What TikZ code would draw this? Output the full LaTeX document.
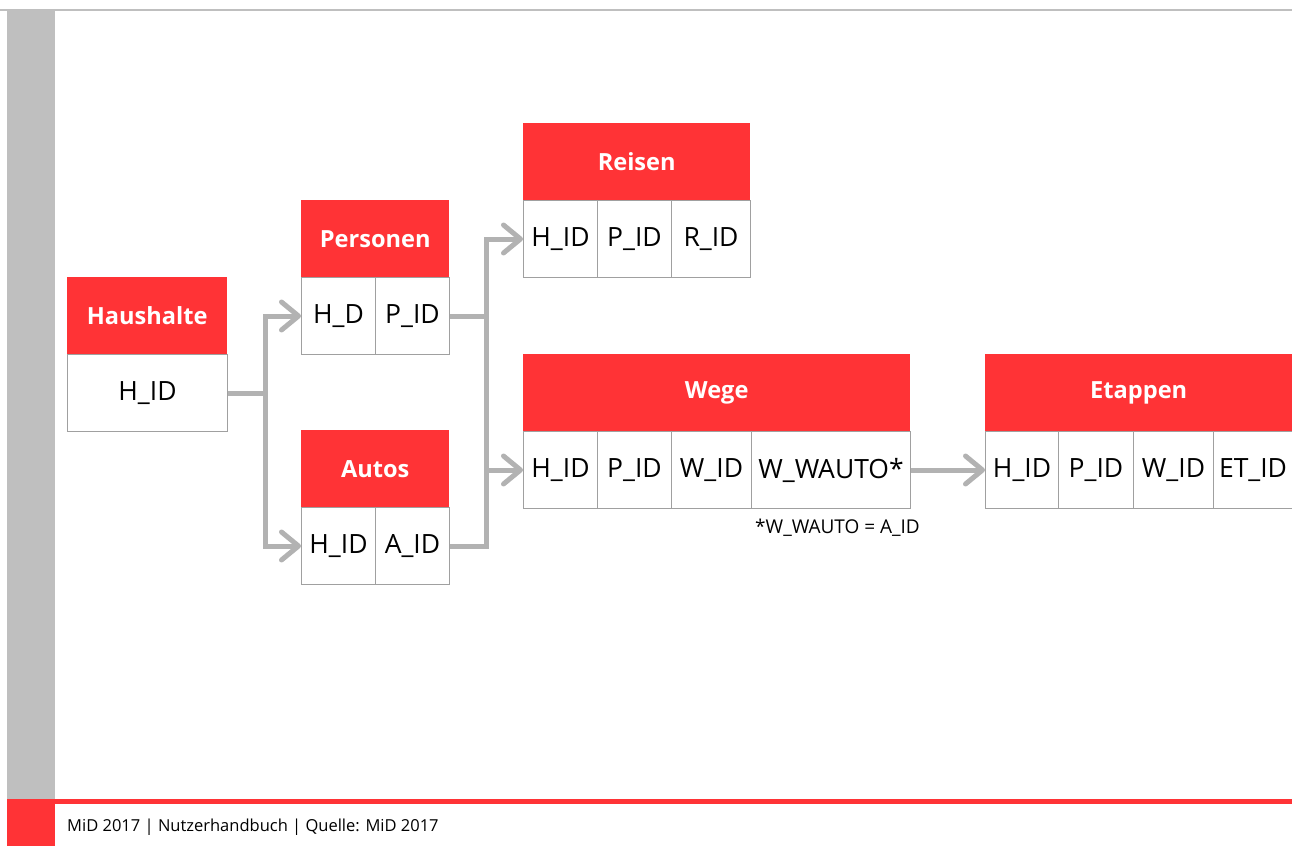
\documentclass[tikz,border=0pt]{standalone}
\usepackage{fontspec}
\setmainfont{Open Sans}
\usetikzlibrary{arrows.meta}
\definecolor{mred}{RGB}{255,51,54}
\definecolor{bargray}{RGB}{191,191,191}
\definecolor{conngray}{RGB}{178,178,178}
\definecolor{cellline}{RGB}{160,160,160}
\tikzset{
  hdr/.style={fill=mred, draw=none, text=white, font=\bfseries\fontsize{23.6}{23.6}\selectfont, minimum height=77pt, inner sep=0pt, anchor=north west},
  cell/.style={draw=cellline, line width=1pt, fill=white, font=\fontsize{26.5}{26.5}\selectfont, minimum height=77pt, inner sep=0pt, anchor=north west},
  conn/.style={draw=conngray, line width=5pt},
  arr/.style={conn, -{Straight Barb[length=17pt,width=28pt,line cap=round,line join=round]}},
}
\begin{document}
\begin{tikzpicture}[x=1pt,y=-1pt]
\useasboundingbox (0,0) rectangle (1292,846);
% frame
\fill[bargray] (0,9) rectangle (1292,11);
\fill[bargray] (7,9) rectangle (55,799);
\fill[mred] (7,799) rectangle (55,846);
\fill[mred] (55,799) rectangle (1292,804);
\node[anchor=base west, font=\fontsize{16.5}{16.5}\selectfont, inner sep=0pt] (foot) at (67,831) {MiD 2017 | Nutzerhandbuch | Quelle: MiD 2017};

% Haushalte
\node[hdr, minimum width=160pt] (hh) at (67,277) {Haushalte};
\node[cell, minimum width=160pt] (hb) at (67,354) {H\_ID};
% Personen
\node[hdr, minimum width=148pt] (ph) at (301,200) {Personen};
\node[cell, minimum width=74pt] (p1) at (301,277) {H\_D};
\node[cell, minimum width=74pt] (p2) at (375,277) {P\_ID};
% Autos
\node[hdr, minimum width=148pt] (ah) at (301,430) {Autos};
\node[cell, minimum width=74pt] (a1) at (301,507) {H\_ID};
\node[cell, minimum width=74pt] (a2) at (375,507) {A\_ID};
% Reisen
\node[hdr, minimum width=227pt] (rh) at (523,123) {Reisen};
\node[cell, minimum width=74pt] (r1) at (523,200) {H\_ID};
\node[cell, minimum width=74pt] (r2) at (597,200) {P\_ID};
\node[cell, minimum width=79pt] (r3) at (671,200) {R\_ID};
% Wege
\node[hdr, minimum width=387pt] (wh) at (523,354) {Wege};
\node[cell, minimum width=74pt] (w1) at (523,431) {H\_ID};
\node[cell, minimum width=74pt] (w2) at (597,431) {P\_ID};
\node[cell, minimum width=80pt] (w3) at (671,431) {W\_ID};
\node[cell, minimum width=159pt] (w4) at (751,431) {W\_WAUTO*};
% Etappen
\node[hdr, minimum width=307pt] (eh) at (985,354) {Etappen};
\node[cell, minimum width=73pt] (e1) at (985,431) {H\_ID};
\node[cell, minimum width=75pt] (e2) at (1058,431) {P\_ID};
\node[cell, minimum width=80pt] (e3) at (1133,431) {W\_ID};
\node[cell, minimum width=79pt] (e4) at (1213,431) {ET\_ID};

\node[anchor=west, font=\fontsize{19}{19}\selectfont, inner sep=0pt] (fn) at (755,528) {*W\_WAUTO = A\_ID};

% connectors
\draw[conn] (hb.east) -- ++(37,0) coordinate (j1);
\draw[arr] (j1) |- (p1.west);
\draw[arr] (j1) |- (a1.west);
\draw[conn] (p2.east) -- ++(36,0) coordinate (j2);
\draw[arr] (a2.east) -| (j2) |- (r1.west);
\draw[arr] (w1.west -| j2) -- (w1.west);
\draw[arr] (w4.east) -- (e1.west);
\end{tikzpicture}
\end{document}
